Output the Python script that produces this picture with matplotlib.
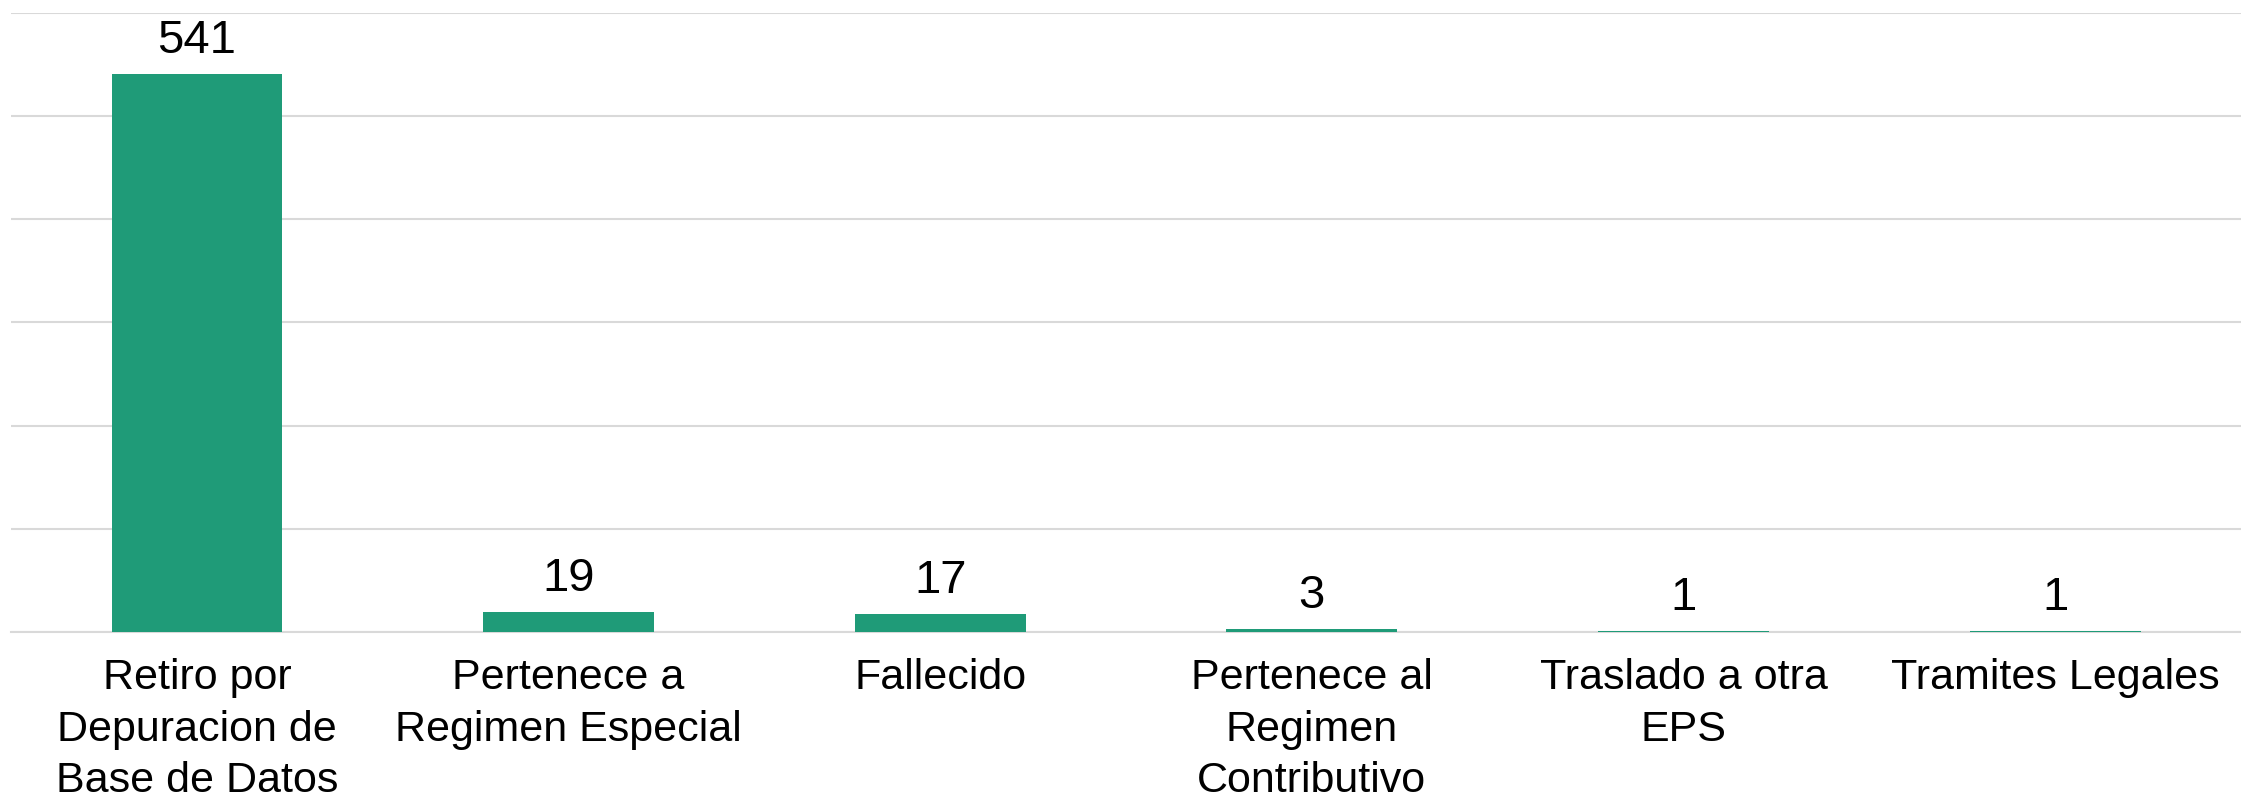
import matplotlib
matplotlib.use("Agg")
import matplotlib.pyplot as plt

# Data
categories = ["Retiro por\nDepuracion de\nBase de Datos",
              "Pertenece a\nRegimen Especial",
              "Fallecido",
              "Pertenece al\nRegimen\nContributivo",
              "Traslado a otra\nEPS",
              "Tramites Legales"]
values = [541, 19, 17, 3, 1, 1]

plt.rcParams['font.family'] = ['Liberation Sans', 'DejaVu Sans']

fig = plt.figure(figsize=(22.41, 7.98), dpi=100)
ax = fig.add_axes([0.005, 0.208, 0.995, 0.776])

bars = ax.bar(range(len(values)), values, width=0.46, color='#1f9b78', zorder=3)
ax.bar_label(bars, labels=[str(v) for v in values], padding=8, fontsize=34, color='black')

ax.set_xlim(-0.5, len(values) - 0.5)
ax.set_ylim(0, 600)
ax.set_yticks(range(0, 601, 100))
ax.set_yticklabels([])
ax.yaxis.grid(True, color='#d9d9d9', linewidth=1.5, zorder=0)
ax.tick_params(axis='both', length=0)
ax.set_xticks(range(len(values)))
ax.set_xticklabels(categories, fontsize=31, linespacing=1.36)
ax.tick_params(axis='x', pad=19)

for side in ['top', 'right', 'left']:
    ax.spines[side].set_visible(False)
ax.spines['bottom'].set_color('#d9d9d9')
ax.spines['bottom'].set_linewidth(1.5)

fig.savefig("out.png", dpi=100)
